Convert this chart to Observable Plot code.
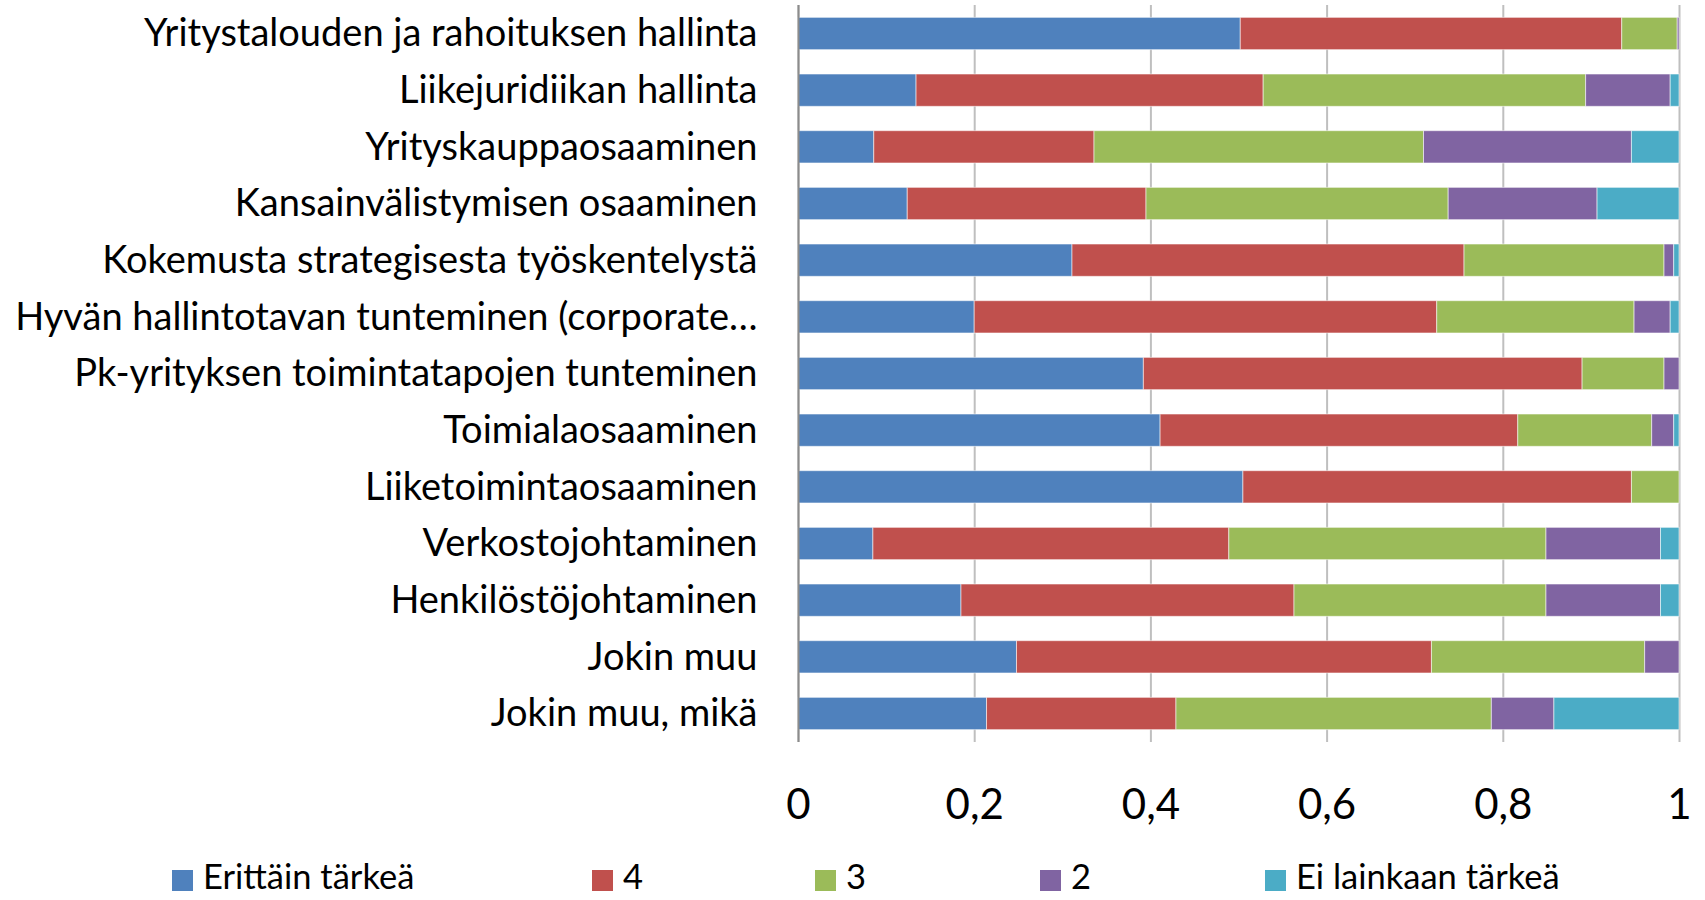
<!DOCTYPE html>
<html>
<head>
<meta charset="utf-8">
<script src="https://cdn.jsdelivr.net/npm/d3@7"></script>
<script src="https://cdn.jsdelivr.net/npm/@observablehq/plot@0.6"></script>
<style>
  html, body { margin: 0; padding: 0; background: #fff; }
  #wrap { position: relative; width: 1705px; height: 900px; overflow: hidden; font-family: Lato, "Open Sans", sans-serif; }
  #legend { position: absolute; left: 0; top: 0; width: 1705px; height: 900px; pointer-events: none; }
  .item { position: absolute; top: 859px; display: flex; align-items: flex-start; font-size: 34.5px; line-height: 1; color: #000; white-space: nowrap; }
  .sw { width: 21px; height: 21px; margin-right: 10px; margin-top: 11px; }
</style>
</head>
<body>
<div id="wrap"><div id="chart"></div><div id="legend"></div></div>
<script>
const categories = [
  "Yritystalouden ja rahoituksen hallinta",
  "Liikejuridiikan hallinta",
  "Yrityskauppaosaaminen",
  "Kansainvälistymisen osaaminen",
  "Kokemusta strategisesta työskentelystä",
  "Hyvän hallintotavan tunteminen (corporate…",
  "Pk-yrityksen toimintatapojen tunteminen",
  "Toimialaosaaminen",
  "Liiketoimintaosaaminen",
  "Verkostojohtaminen",
  "Henkilöstöjohtaminen",
  "Jokin muu",
  "Jokin muu, mikä"
];
const seriesNames = ["Erittäin tärkeä", "4", "3", "2", "Ei lainkaan tärkeä"];
const seriesColors = ["#4F81BD", "#C0504D", "#9BBB59", "#8064A2", "#4BACC6"];
const erittainTarkea = [0.502, 0.134, 0.086, 0.124, 0.311, 0.200, 0.392, 0.411, 0.505, 0.085, 0.185, 0.248, 0.214];
const arvo4 = [0.433, 0.394, 0.250, 0.271, 0.445, 0.525, 0.498, 0.406, 0.441, 0.404, 0.378, 0.471, 0.215];
const arvo3 = [0.063, 0.366, 0.374, 0.343, 0.227, 0.224, 0.093, 0.152, 0.054, 0.360, 0.286, 0.242, 0.358];
const arvo2 = [0.002, 0.096, 0.236, 0.169, 0.011, 0.041, 0.017, 0.025, 0, 0.130, 0.130, 0.039, 0.071];
const eiLainkaanTarkea = [0, 0.010, 0.054, 0.093, 0.006, 0.010, 0, 0.006, 0, 0.021, 0.021, 0, 0.142];
const xTicks = [0, 0.2, 0.4, 0.6, 0.8, 1];

const seriesValues = [erittainTarkea, arvo4, arvo3, arvo2, eiLainkaanTarkea];
const rows = [];
seriesNames.forEach((s, si) => {
  categories.forEach((c, ci) => {
    rows.push({category: c, series: s, value: seriesValues[si][ci]});
  });
});

const chart = Plot.plot({
  width: 1705,
  height: 842,
  marginTop: 5,
  marginBottom: 100,
  marginLeft: 798,
  marginRight: 26,
  style: {fontFamily: "Lato, 'Open Sans', sans-serif", background: "#fff", color: "#000"},
  x: {domain: [0, 1], ticks: xTicks},
  y: {domain: categories, paddingInner: 0.43, paddingOuter: 0.218, round: false},
  color: {domain: seriesNames, range: seriesColors},
  marks: [
    Plot.gridX(xTicks, {stroke: "#bfbfbf", strokeWidth: 2, strokeOpacity: 1}),
    Plot.barX(rows, Plot.stackX({
      y: "category", x: "value", fill: "series", order: seriesNames,
      stroke: "#ffffff", strokeOpacity: 0.55, strokeWidth: 1
    })),
    Plot.ruleX([0], {stroke: "#8c8c8c", strokeWidth: 2}),
    Plot.axisX(xTicks, {
      tickSize: 0, tickPadding: 47, fontSize: 42, label: null,
      tickFormat: d => String(d).replace(".", ",")
    }),
    Plot.axisY({tickSize: 0, tickPadding: 41, fontSize: 38, label: null})
  ]
});
document.getElementById("chart").appendChild(chart);

const legendLefts = [172, 592, 815, 1040, 1265];
const legend = document.getElementById("legend");
seriesNames.forEach((s, i) => {
  const item = document.createElement("div");
  item.className = "item";
  item.style.left = legendLefts[i] + "px";
  const sw = document.createElement("div");
  sw.className = "sw";
  sw.style.background = seriesColors[i];
  const t = document.createElement("span");
  t.textContent = s;
  item.appendChild(sw);
  item.appendChild(t);
  legend.appendChild(item);
});
</script>
</body>
</html>
